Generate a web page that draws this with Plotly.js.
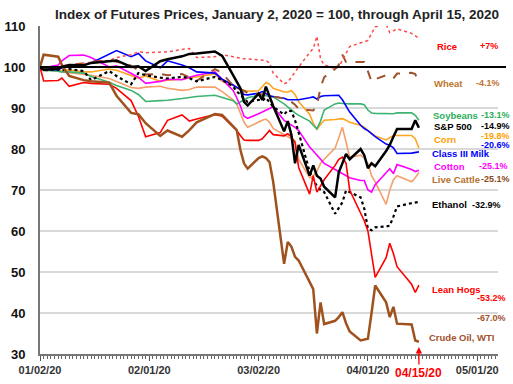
<!DOCTYPE html>
<html><head><meta charset="utf-8">
<script src="https://cdn.plot.ly/plotly-3.0.1.min.js"></script>
<style>html,body{margin:0;padding:0;background:#fff;}#chart{width:513px;height:384px;}</style>
</head><body><div id="chart"></div>
<script>
const dates = ['2020-01-02','2020-01-03','2020-01-07','2020-01-08','2020-01-10','2020-01-14','2020-01-16','2020-01-21','2020-01-23','2020-01-27','2020-01-29','2020-01-31',
'2020-02-04','2020-02-06','2020-02-10','2020-02-12','2020-02-14','2020-02-19','2020-02-21','2020-02-24','2020-02-25','2020-02-26','2020-02-27','2020-02-28',
'2020-03-02','2020-03-03','2020-03-04','2020-03-05','2020-03-06','2020-03-09','2020-03-10','2020-03-11','2020-03-12','2020-03-13','2020-03-16','2020-03-17','2020-03-18','2020-03-19','2020-03-20','2020-03-23','2020-03-24','2020-03-25','2020-03-26','2020-03-27','2020-03-30','2020-03-31',
'2020-04-01','2020-04-02','2020-04-03','2020-04-06','2020-04-07','2020-04-08','2020-04-09','2020-04-13','2020-04-14','2020-04-15'];

const rice = [100,99.8,100,100.2,100.5,100.8,101.2,101.6,102.3,103,103.7,103.5,
103.6,103.7,104.3,104.5,102.3,102.5,103,102.5,102.3,102.2,102,102,
101.8,101.7,101.6,101,98.5,95.9,96.3,97.5,98.8,100,103.5,104.5,107.5,102,100.5,99.6,100,101.8,103.5,105,105.9,106.1,
106.5,108,109.8,110.4,108.4,108.8,109.3,108.2,107.6,107];
const wheat = [100,99.8,99.8,100.2,100.5,100.9,101.3,101.6,101.3,100.3,99.2,98.2,
98.3,98,98.3,97.5,96.6,99.5,98.5,95.5,95,94.5,94,93.7,
93.5,93.3,93.2,93,92.8,92.3,92,91.5,90.8,89.8,89.5,89.4,90.6,95,97.5,99.5,100.5,103,101.2,101.2,101.2,101.2,
99,96.4,97,98,97.5,97.2,98.4,98.6,98.3,95.9];
const soybeans = [100,99.2,99,98.8,98.8,98.5,97.7,96.3,95.5,94.3,93.3,91.6,
91.8,91.9,92.3,92.6,92.8,93.1,92.6,91.8,91,91.5,92,92.5,
93.1,93.1,93,92.8,92.7,91,90.2,89.6,88.8,88.2,86.8,85.8,84.9,86.8,89.5,91,91.2,91.1,91,91,91,90.8,
89.5,88.8,88.7,88.6,88.6,88.6,88.8,88.8,88.2,87];
const sp500 = [100,99.3,99.6,100,100.5,100.4,101,101.5,101.6,100,100.2,99,
101.4,101.9,102.6,103.2,103.3,103.8,102.7,98,96.3,94.8,91.5,90.6,
93.5,92,95.2,92.8,90.5,84.3,86.8,83.5,76.5,81,73.5,76,73.5,72.8,70.8,68.2,74.3,76.5,78.8,77.5,80,78.5,
75.3,76.5,75.8,79.5,81,83,84.9,84.9,87,85.2];
const corn = [100,99.5,99.2,99,99.3,98.8,98.8,99.5,99.2,98,97.3,97.8,
96.5,96.8,97,97.3,97.6,98.3,96.5,95.5,94.8,94.5,94.3,94.1,
94.2,95.2,96.2,95.8,94.8,93.9,93.9,94.2,93.3,91.5,88.5,86.3,84.8,86,87,87.2,87.3,87.4,87,86.5,85.8,85.3,
84.5,83.8,83.2,82.2,82.8,83.3,83.3,83.3,82.5,80.2];
const milk = [100,99.5,99.3,99.8,100.3,100.5,101,103,104,102.5,103.3,101.5,
99.8,101.5,100.5,99.8,98.8,98.5,97,95.6,95.1,94.5,93.3,93.2,
93.6,94,93.5,93,92.8,92.4,92,92,91.9,92,92.5,92.7,92.2,92.8,93,93.1,93.1,92,90.5,89,85.8,85,
84.5,83.7,83,81.2,80.9,80.3,78.9,79,79.1,79.3];
const cotton = [100,99.8,100.5,101.5,102.8,102.9,102.3,100,100.3,98.5,97.5,96,
96.5,97,96.9,97.5,98,98.8,97,94.3,92.5,90.5,88,87.5,
88.6,89,89.4,90,90.3,87,86.5,86,85.3,84.5,80.5,79.5,78.5,77.5,76.5,75,74.5,74,73.5,73,72.3,72.3,
70,69.5,71.3,74.3,75.2,74,76.2,75,74.5,74.8];
const liveCattle = [100,99.5,99,98.8,98.6,98.3,98,97.2,96.5,95,94.8,95.1,
95.3,94.8,94.3,94.5,95.1,95.1,94,92,91,88.5,86.5,85.3,
86.7,87,87.3,86.5,85,83.5,83.2,82.5,82,77.5,73,73.5,74.5,76.5,77.5,80.2,82.5,85.3,81.7,78,78.5,77.8,
76.5,73.5,72,66.5,70,72.5,73.5,72,73,74.3];
const ethanol = [100,99.2,99.4,99.2,99.5,99,96.8,99,97.8,95.8,98.5,98,
97.4,97.2,97.6,97.3,96.5,97.6,96.8,95.3,94,93.3,92.2,91.5,
92,91.8,92.5,91.5,90.3,88.4,89.4,89.2,87,84,74.5,72.5,71,70,69.5,64.2,65.5,67,69.9,69.5,68.2,65.5,
60.5,60.2,60.9,61.1,61.3,63.5,66,66.8,67,67.1];
const leanHogs = [100,96.6,96.7,97.3,95.3,96.2,96,95.8,94.8,91.8,88,83,
84,87,88.3,86.8,87.3,88.4,88,85.5,84.5,83.3,82.2,82.1,
82.1,82.5,83.5,84.5,83.5,83.2,83.7,83,81.5,75.5,69,73.5,69.5,71,72.5,76,77.5,78,76.5,70,64.5,62.5,
60,54,48.7,53.5,57,54.5,51.3,47,45,46.8];
const crudeOil = [100,103,102.5,100.5,97.8,96.8,96.5,96.2,93,88.8,88.5,86.3,
83.2,84.5,83,84.6,86.5,88.5,88.3,85.6,84.6,79.8,76.5,75.2,
77.8,78.2,77.8,76.8,72,52,57.3,56.2,53.7,52.8,47.5,45.8,35,42.6,37.3,38.1,39,40.2,37.5,35.5,33.3,33.5,
33.7,40,46.7,42.6,39,41.5,37.4,37.2,33.3,33];

const labelNames = ['Rice','Wheat','Soybeans','S&P 500','Corn','Class III Milk','Cotton','Live Cattle','Ethanol','Lean Hogs','Crude Oil, WTI'];
const labelPcts = ['+7%','-4.1%','-13.1%','-14.9%','-19.8%','-20.6%','-25.1%','-25.1%','-32.9%','-53.2%','-67.0%'];
const tickDates = ['2020-01-02','2020-02-01','2020-03-02','2020-04-01','2020-05-01'];
const tickLabels = ['01/02/20','02/01/20','03/02/20','04/01/20','05/01/20'];
const yTicks = [30,40,50,60,70,80,90,100,110];
const markDate = '2020-04-15';
const markLabel = '04/15/20';
const baseLevel = 100;
const titleText = 'Index of Futures Prices, January 2, 2020 = 100, through April 15, 2020';

const FONT = 'Arial, "Liberation Sans", sans-serif';
const L = 40, R = 15, T = 26, B = 30, W = 513, H = 384;
const PW = W - L - R, PH = H - T - B;
const px = p => (p - L) / PW;
const py = p => (H - B - p) / PH;

const series = [
  {y: liveCattle, color: '#F4A06A', width: 1.6, dash: 'solid'},
  {y: corn, color: '#FFA520', width: 1.6, dash: 'solid'},
  {y: soybeans, color: '#3CB371', width: 1.6, dash: 'solid'},
  {y: cotton, color: '#FF00FF', width: 1.6, dash: 'solid'},
  {y: milk, color: '#0000FF', width: 1.6, dash: 'solid'},
  {y: wheat, color: '#A0522D', width: 2, dash: 'dash'},
  {y: rice, color: '#FF4A4A', width: 1.5, dash: 'dot'},
  {y: ethanol, color: '#000000', width: 2.2, dash: 'dot'},
  {y: leanHogs, color: '#FF0000', width: 1.6, dash: 'solid'},
  {y: crudeOil, color: '#A0521E', width: 2.5, dash: 'solid'},
  {y: sp500, color: '#000000', width: 2.5, dash: 'solid'}
];
const traces = series.map(s => ({
  x: dates, y: s.y, type: 'scatter', mode: 'lines',
  line: {color: s.color, width: s.width, dash: s.dash},
  hoverinfo: 'skip', showlegend: false
}));

// label layout: [nameLeftX, nameY, pctRightX, pctY, nameColor, pctColor]
const labelLayout = [
  [435, 46, 500, 46, '#FF0000', '#FF0000'],
  [432, 83, 502, 83, '#C0752F', '#C0752F'],
  [431, 115, 512, 115, '#2DAE5A', '#2DAE5A'],
  [432, 126, 512, 126, '#000000', '#000000'],
  [432, 139, 512, 135.5, '#FFA000', '#FFA000'],
  [430, 153, 512, 145, '#0000FF', '#0000FF'],
  [432, 166, 510, 166, '#FF00FF', '#FF00FF'],
  [430, 179, 512, 179, '#B8732F', '#8B4A20'],
  [430, 205, 503, 205, '#000000', '#000000'],
  [430, 289, 508, 298, '#FF0000', '#FF0000'],
  [427, 337, 508, 318, '#A0522D', '#A0522D']
];
const annotations = [];
labelNames.forEach((n, i) => {
  const p = labelLayout[i];
  annotations.push({xref: 'paper', yref: 'paper', x: px(p[0]), y: py(p[1]), xanchor: 'left', yanchor: 'middle',
    text: n.replace('&', '&amp;'), showarrow: false, font: {family: FONT, size: 9.5, weight: 'bold', color: p[4]}});
  annotations.push({xref: 'paper', yref: 'paper', x: px(p[2]), y: py(p[3]), xanchor: 'right', yanchor: 'middle',
    text: labelPcts[i], showarrow: false, font: {family: FONT, size: 9, weight: 'bold', color: p[5]}});
});
annotations.push({xref: 'x', yref: 'paper', x: markDate, y: py(347), ax: 0, ay: 26,
  text: markLabel, showarrow: true, arrowhead: 2, arrowsize: 1, arrowwidth: 1.3, arrowcolor: '#FF0000', standoff: 0,
  font: {family: FONT, size: 12, weight: 'bold', color: '#FF0000'}});

const shapes = [
  {type: 'rect', layer: 'between', xref: 'paper', yref: 'y', x0: px(378), x1: 1, y0: 31, y1: 65, fillcolor: '#FFFFFF', line: {width: 0}},
  {type: 'rect', layer: 'between', xref: 'paper', yref: 'y', x0: px(430), x1: 1, y0: 65, y1: 111, fillcolor: '#FFFFFF', line: {width: 0}},
  {type: 'line', layer: 'above', xref: 'paper', yref: 'y', x0: 0, x1: px(506), y0: baseLevel, y1: baseLevel, line: {color: '#000000', width: 2}}
];

const layout = {
  width: W, height: H,
  margin: {l: L, r: R, t: T, b: B, pad: 0},
  paper_bgcolor: '#FFFFFF', plot_bgcolor: '#FFFFFF',
  font: {family: FONT},
  title: {text: titleText, xref: 'paper', x: px(277), xanchor: 'center', yref: 'container', y: 1 - 14 / H, yanchor: 'middle',
    font: {family: FONT, size: 13.5, weight: 'bold', color: '#222222'}},
  xaxis: {type: 'date', range: ['2020-01-02', '2020-05-06 17:00'], tickmode: 'array', tickvals: tickDates, ticktext: tickLabels,
    ticks: 'outside', ticklen: 5, tickwidth: 1, tickcolor: '#555555',
    minor: {ticks: 'outside', ticklen: 3, tickwidth: 1, tickcolor: '#666666', tickmode: 'linear', tick0: '2020-01-02', dtick: 86400000, showgrid: false},
    showline: true, linecolor: '#777777', linewidth: 1.5, showgrid: false, zeroline: false,
    tickfont: {family: FONT, size: 11, weight: 'bold', color: '#333333'}, fixedrange: true},
  yaxis: {range: [30, 110], tickmode: 'array', tickvals: yTicks, ticks: '', showline: true, linecolor: '#777777', linewidth: 2,
    showgrid: true, gridcolor: '#D9D9D9', gridwidth: 1.5, zeroline: false, ticklabelstandoff: 10,
    tickfont: {family: FONT, size: 13, weight: 'bold', color: '#111111'}, fixedrange: true},
  shapes: shapes,
  annotations: annotations,
  showlegend: false
};

Plotly.newPlot('chart', traces, layout, {displayModeBar: false, staticPlot: true});
</script>
</body></html>
